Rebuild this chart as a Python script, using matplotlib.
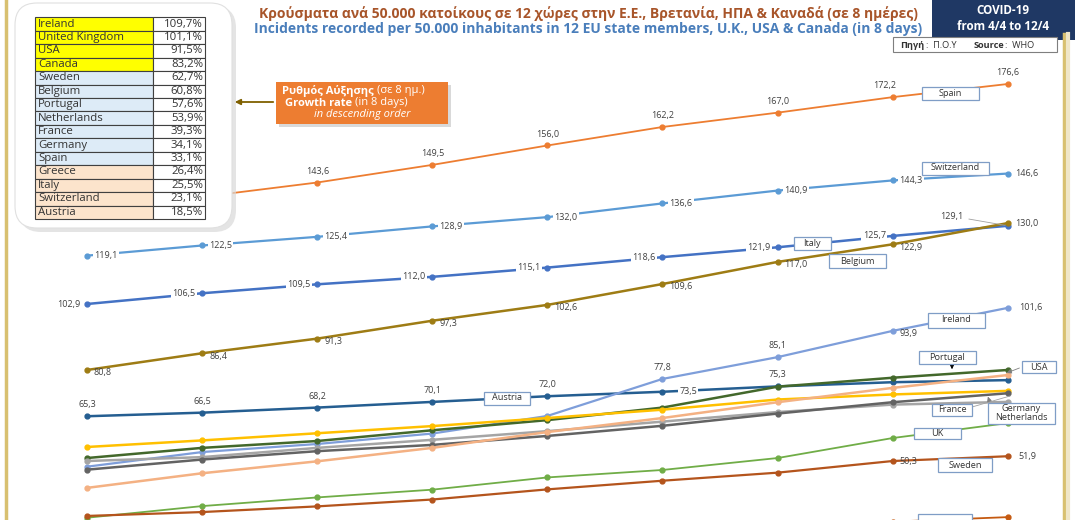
import matplotlib.pyplot as plt
from matplotlib.patches import Rectangle, FancyBboxPatch
import numpy as np

plt.rcParams['font.family'] = ['Open Sans', 'DejaVu Sans']

# data: cases per 50.000 inhabitants, 4/4 .. 12/4
days = ['4/4', '5/4', '6/4', '7/4', '8/4', '9/4', '10/4', '11/4', '12/4']
spain = [132.7, 138.8, 143.6, 149.5, 156.0, 162.2, 167.0, 172.2, 176.6]
switzerland = [119.1, 122.5, 125.4, 128.9, 132.0, 136.6, 140.9, 144.3, 146.6]
italy = [102.9, 106.5, 109.5, 112.0, 115.1, 118.6, 121.9, 125.7, 129.1]
belgium = [80.8, 86.4, 91.3, 97.3, 102.6, 109.6, 117.0, 122.9, 130.0]
austria = [65.3, 66.5, 68.2, 70.1, 72.0, 73.5, 75.3, 76.7, 77.4]
ireland = [48.4, 53.3, 56.0, 59.5, 65.4, 77.8, 85.1, 93.9, 101.6]
portugal = [51.3, 54.7, 57.0, 60.6, 64.0, 68.2, 75.2, 78.2, 80.8]
germany = [55.0, 57.2, 59.6, 62.0, 64.7, 67.5, 70.9, 72.6, 73.8]
france = [50.3, 51.6, 54.7, 57.4, 60.3, 63.5, 66.7, 69.2, 70.1]
netherlands = [47.4, 50.8, 53.6, 55.7, 58.7, 62.1, 66.2, 70.0, 73.0]
usa = [41.3, 46.2, 50.2, 54.7, 60.0, 64.7, 70.0, 74.8, 79.1]
uk = [31.3, 35.2, 38.1, 40.7, 44.8, 47.3, 51.3, 58.0, 63.0]
sweden = [31.9, 33.2, 35.1, 37.4, 40.8, 43.7, 46.4, 50.3, 51.9]
canada = [17.2, 18.9, 21.0, 22.9, 24.7, 26.5, 28.1, 30.0, 31.5]

# growth table (in descending order)
rank_names = ['Ireland', 'United Kingdom', 'USA', 'Canada', 'Sweden', 'Belgium',
              'Portugal', 'Netherlands', 'France', 'Germany', 'Spain', 'Greece',
              'Italy', 'Switzerland', 'Austria']
rank_values = [109.7, 101.1, 91.5, 83.2, 62.7, 60.8, 57.6, 53.9, 39.3, 34.1,
               33.1, 26.4, 25.5, 23.1, 18.5]

fig = plt.figure(figsize=(10.75, 5.2), dpi=100)
fig.patch.set_facecolor('white')
ax = fig.add_axes([0, 0, 1, 1])
ax.set_xlim(-0.756, 8.584)
ax.set_ylim(30.54, 204.74)
ax.axis('off')

x = np.arange(len(days))

series = [
    (spain, '#ED7D31', 1.3),
    (switzerland, '#5B9BD5', 1.6),
    (italy, '#4472C4', 1.8),
    (belgium, '#9E7C14', 1.8),
    (austria, '#255E91', 1.8),
    (ireland, '#7E9EDA', 1.6),
    (portugal, '#43682B', 1.8),
    (germany, '#FFC000', 1.8),
    (france, '#A5A5A5', 1.8),
    (netherlands, '#636363', 1.8),
    (usa, '#F4B183', 1.8),
    (uk, '#70AD47', 1.3),
    (sweden, '#B4541C', 1.6),
    (canada, '#C55A11', 1.3),
]
for vals, col, lw in series:
    ax.plot(x, vals, color=col, lw=lw, marker='o', ms=3.5, zorder=3)

lab = dict(fontsize=6.5, color='#404040', zorder=5)
bg = dict(boxstyle='square,pad=0.15', fc='white', ec='none')


def fmt(v):
    return f'{v:.1f}'.replace('.', ',')


def put(vals, i, dx, dy, ha='center', va='center', box=False):
    ax.annotate(fmt(vals[i]), (x[i], vals[i]), xytext=(dx, dy),
                textcoords='offset points', ha=ha, va=va,
                bbox=bg if box else None, **lab)


for i in range(2, 9):
    put(spain, i, -6 if i == 7 else 0, 5, va='bottom')
for i in range(9):
    put(switzerland, i, 5, 0, ha='left', box=True)
for i in range(8):
    put(italy, i, -5, 0, ha='right', box=True)
ax.annotate(fmt(italy[8]), (x[8], italy[8]), xytext=(-32, 7),
            textcoords='offset points', ha='right', va='center',
            arrowprops=dict(arrowstyle='-', color='#A0A0A0', lw=0.6), **lab)
for i in range(9):
    put(belgium, i, 5, 0 if i == 8 else -2, ha='left')
for i in range(5):
    put(austria, i, 0, 5, va='bottom')
put(austria, 5, 12, 0, ha='left', box=True)
put(austria, 6, 0, 5, va='bottom')
put(ireland, 5, 0, 5, va='bottom')
put(ireland, 6, 0, 5, va='bottom')
put(ireland, 7, 5, -2, ha='left')
put(ireland, 8, 8, 0, ha='left')
put(sweden, 7, 5, 0, ha='left')
put(sweden, 8, 8, 0, ha='left')

# overlay in pixel coordinates for frame, boxes and table
ov = fig.add_axes([0, 0, 1, 1], facecolor='none')
ov.set_xlim(0, 1075)
ov.set_ylim(520, 0)
ov.axis('off')

ov.plot([6, 6], [0, 520], color='#D8C070', lw=2.5)
ov.plot([1064, 1064], [34, 520], color='#D8C070', lw=2.5)
ov.plot([1068, 1068], [34, 520], color='#EFE6C8', lw=3)

# titles
ov.text(588, 14, 'Κρούσματα ανά 50.000 κατοίκους σε 12 χώρες στην Ε.Ε., Βρετανία, ΗΠΑ & Καναδά (σε 8 ημέρες)',
        ha='center', va='center', fontsize=10, fontweight='bold', color='#A8552A')
ov.text(588, 29, 'Incidents recorded per 50.000 inhabitants in 12 EU state members, U.K., USA & Canada (in 8 days)',
        ha='center', va='center', fontsize=10, fontweight='bold', color='#4A7EBB')

ov.add_patch(Rectangle((932, 0), 143, 40, fc='#1F3864', ec='none'))
ov.text(1003, 11, 'COVID-19', ha='center', va='center', fontsize=8.4,
        fontweight='bold', color='white')
ov.text(1003, 27, 'from 4/4 to 12/4', ha='center', va='center', fontsize=8.4,
        fontweight='bold', color='white')

ov.add_patch(Rectangle((893, 37), 164, 15, fc='white', ec='#7F7F7F', lw=0.8))
ov.text(900, 45, 'Πηγή', ha='left', va='center', fontsize=6.6, fontweight='bold', color='#333333')
ov.text(926, 45, ':  Π.Ο.Υ', ha='left', va='center', fontsize=6.6, color='#333333')
ov.text(974, 45, 'Source', ha='left', va='center', fontsize=6.6, fontweight='bold', color='#333333')
ov.text(1005, 45, ':  WHO', ha='left', va='center', fontsize=6.6, color='#333333')

# growth table
ov.add_patch(FancyBboxPatch((19, 6), 217, 226, boxstyle='round,pad=0,rounding_size=22',
                            fc='#D9D9D9', ec='none', alpha=0.7))
ov.add_patch(FancyBboxPatch((15, 3), 217, 225, boxstyle='round,pad=0,rounding_size=22',
                            fc='white', ec='#E0E0E0', lw=0.8))
fills = ['#FFFF00'] * 4 + ['#DDEBF7'] * 7 + ['#FCE4CC'] * 4
top, rh = 17.3, 13.45
for k, (nm, v) in enumerate(zip(rank_names, rank_values)):
    y0 = top + k * rh
    ov.add_patch(Rectangle((35, y0), 118, rh, fc=fills[k], ec='#404040', lw=0.8))
    ov.add_patch(Rectangle((153, y0), 52, rh, fc='white', ec='#404040', lw=0.8))
    ov.text(38, y0 + rh / 2, nm, ha='left', va='center', fontsize=8.2, color='#333333')
    ov.text(203, y0 + rh / 2, fmt(v) + '%', ha='right', va='center', fontsize=8.2, color='#333333')

# callout
ov.add_patch(Rectangle((279, 85), 172, 42, fc='#D9D9D9', ec='none'))
ov.add_patch(Rectangle((276, 82), 172, 42, fc='#ED7D31', ec='none'))
ct = dict(va='center', fontsize=8, color='white')
ov.text(374, 91, 'Ρυθμός Αύξησης', ha='right', fontweight='bold', **ct)
ov.text(377, 91, '(σε 8 ημ.)', ha='left', **ct)
ov.text(352, 103, 'Growth rate', ha='right', fontweight='bold', **ct)
ov.text(355, 103, '(in 8 days)', ha='left', **ct)
ov.text(362, 115, 'in descending order', ha='center', style='italic', **ct)
ov.annotate('', xy=(232, 102), xytext=(276, 102),
            arrowprops=dict(arrowstyle='-|>', color='#7F6000', lw=1.3, mutation_scale=8))


def tag(cx, cy, w, h, txt):
    ov.add_patch(Rectangle((cx - w / 2, cy - h / 2), w, h, fc='white', ec='#7F9DC6', lw=0.9, zorder=6))
    if txt:
        ov.text(cx, cy, txt, ha='center', va='center', fontsize=6.6, color='#333333',
                zorder=7, linespacing=1.1)


tag(950, 93, 57, 13, 'Spain')
tag(955, 168, 67, 13, 'Switzerland')
tag(812, 243, 37, 13, 'Italy')
tag(857, 261, 57, 14, 'Belgium')
tag(956, 320, 57, 15, 'Ireland')
tag(947, 357, 57, 13, 'Portugal')
tag(1039, 367, 34, 12, 'USA')
tag(952, 410, 40, 12, 'France')
tag(1021, 413, 67, 21, 'Germany\nNetherlands')
tag(937, 433, 47, 11, 'UK')
tag(965, 465, 54, 14, 'Sweden')
tag(507, 398, 46, 13, 'Austria')
tag(945, 528, 54, 28, '')  # Canada tag, cut off at the bottom edge

arr = dict(arrowstyle='-|>', color='black', lw=0.6, mutation_scale=7)
ov.annotate('', xy=(952, 372), xytext=(952, 364), arrowprops=arr)
ov.annotate('', xy=(1004, 374), xytext=(1022, 367),
            arrowprops=dict(arrowstyle='-|>', color='#7F7F7F', lw=0.6, mutation_scale=7))
ov.annotate('', xy=(987, 394), xytext=(990, 403),
            arrowprops=dict(arrowstyle='-|>', color='#7F7F7F', lw=0.6, mutation_scale=7))
ov.plot([972, 1010], [407, 396], color='#A0A0A0', lw=0.6)

fig.savefig('out.png', dpi=100)
